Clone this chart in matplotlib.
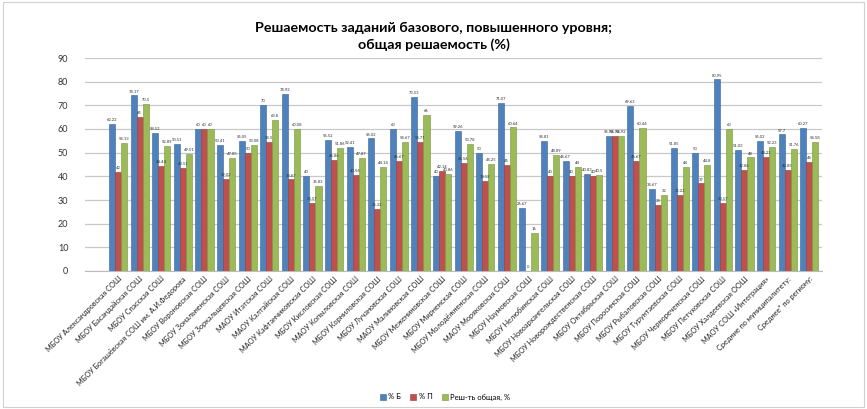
import matplotlib
matplotlib.use("Agg")
import matplotlib.pyplot as plt
import numpy as np
from matplotlib.patches import Rectangle

categories = [
    "МБОУ Александровская СОШ", "МБОУ Басандайская СОШ", "МБОУ Спасская СОШ",
    "МБОУ Богашёвская СОШ им. А.И.Федорова", "МБОУ Вороновская СОШ",
    "МБОУ Зональненская СОШ", "МБОУ Зоркальцевская СОШ", "МАОУ Итатская СОШ",
    "МАОУ Калтайская СОШ", "МАОУ Кафтанчиковская СОШ", "МБОУ Кисловская СОШ",
    "МАОУ Копыловская СОШ", "МБОУ Корниловская СОШ", "МБОУ Лучановская СОШ",
    "МАОУ Малиновская СОШ", "МБОУ Межениновская СОШ", "МБОУ Мирненская СОШ",
    "МБОУ Молодёжненская СОШ", "МАОУ Моряковская СОШ", "МБОУ Наумовская СОШ",
    "МБОУ Нелюбинская СОШ", "МБОУ Новоархангельская СОШ",
    "МБОУ Новорождественская СОШ", "МБОУ Октябрьская СОШ", "МБОУ Поросинская СОШ",
    "МБОУ Рыбаловская СОШ", "МБОУ Турунтаевская СОШ", "МБОУ Чернореченская СОШ",
    "МБОУ Петуховская СОШ", "МБОУ Халдеевская ООШ", "МАОУ СОШ «Интеграция»",
    "Средние по муниципалитету:", "Среднее* по региону:",
]
pct_b = [62.22, 74.17, 58.52, 53.51, 60, 53.41, 55.05, 70, 74.92, 40, 55.52, 52.41,
         56.02, 60, 73.53, 40, 59.26, 50, 71.07, 26.67, 54.81, 46.67, 40.83, 56.92,
         69.63, 34.67, 51.85, 50, 80.95, 51.03, 55.02, 57.7, 60.27]
pct_p = [42, 65, 44.44, 43.51, 60, 39.02, 50, 54.5, 38.67, 28.57, 46.86, 40.56,
         26.32, 46.67, 54.71, 42.14, 45.56, 38.13, 45, 0, 40, 40, 40, 56.92,
         46.67, 28, 32.22, 37, 28.57, 42.86, 48.21, 42.85, 46]
pct_total = [54.13, 70.5, 52.89, 49.51, 60, 47.85, 53.08, 63.8, 60.08, 35.83, 51.86,
             47.87, 44.14, 54.67, 66, 40.86, 53.78, 45.25, 60.64, 16, 48.89, 44,
             40.5, 56.92, 60.44, 32, 44, 44.8, 60, 48, 52.23, 51.76, 54.58]
series_names = ["% Б", "% П", "Реш-ть общая, %"]
yticks = [0, 10, 20, 30, 40, 50, 60, 70, 80, 90]

colors = ["#4F81BD", "#C0504D", "#9BBB59"]
edge = ["#3A6496", "#8E3B39", "#76923C"]

fig = plt.figure(figsize=(8.67, 4.09), dpi=100)
plt.rcParams['font.family'] = ['Lato', 'DejaVu Sans']
ax = fig.add_axes([85/867, 1-271/409, 737/867, 213/409])

x = np.arange(len(categories))
w = 0.28
for i, (vals, c, ec, name) in enumerate(zip([pct_b, pct_p, pct_total], colors, edge, series_names)):
    pos = x + (i - 1) * w
    ax.bar(pos, vals, width=w, color=c, edgecolor=ec, linewidth=0.4, label=name, zorder=3)
    for p, v in zip(pos, vals):
        ax.text(p, v + 0.8, f"{v:g}", ha="center", va="bottom", fontsize=3.0, color="#333333", zorder=4)

ax.set_xlim(-1.53, 32.59)
ax.set_ylim(0, 90)
ax.set_yticks(yticks)
ax.tick_params(axis="y", labelsize=6.5, length=0, pad=12, colors="#333333")
ax.yaxis.grid(True, color="#C8C8C8", linewidth=0.9, zorder=0)
ax.set_xticks(x)
ax.set_xticklabels(categories, rotation=45, ha="right", rotation_mode="anchor", fontsize=5.3)
ax.tick_params(axis="x", length=0, pad=3, colors="#222222")
for s in ["top", "right", "left"]:
    ax.spines[s].set_visible(False)
ax.spines["bottom"].set_color("#BBBBBB")

fig.text(0.5, 1-28/409, "Решаемость заданий базового, повышенного уровня;", ha="center", va="center",
         fontsize=10.3, fontweight="bold")
fig.text(0.5, 1-45/409, "общая решаемость (%)", ha="center", va="center",
         fontsize=10.3, fontweight="bold")

fig.legend(loc="center", bbox_to_anchor=(445/867, 1-397/409), ncol=3, frameon=False,
           fontsize=5.5, handlelength=0.8, handleheight=0.8, columnspacing=1.2, handletextpad=0.3)

fig.patches.append(Rectangle((0.004, 0.006), 0.992, 0.988, transform=fig.transFigure,
                             fill=False, edgecolor="#D0D0D0", linewidth=0.8))

fig.savefig("out.png", dpi=100)
